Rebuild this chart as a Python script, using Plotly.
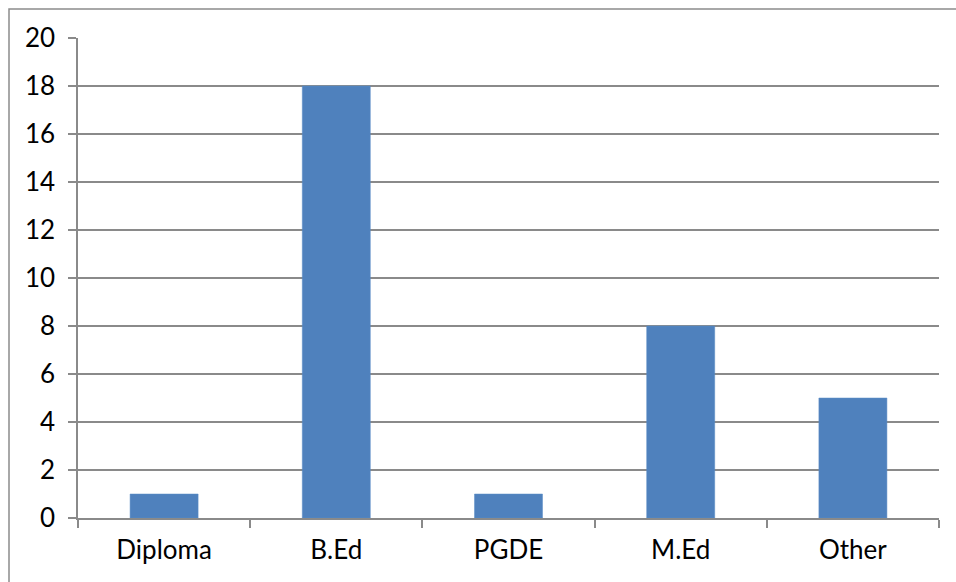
import plotly.graph_objects as go

categories = ["Diploma", "B.Ed", "PGDE", "M.Ed", "Other"]
values = [1, 18, 1, 8, 5]
y_ticks = [0, 2, 4, 6, 8, 10, 12, 14, 16, 18, 20]

W, H = 956, 582
ml, mr, mt, mb = 78, 17, 38, 64
pw = W - ml - mr
ph = H - mt - mb

fig = go.Figure(go.Bar(
    x=categories, y=values,
    marker=dict(color="#4F81BD", line=dict(color="#5B8CC6", width=0.5)),
))

grid = "#8A8A8A"
fig.update_layout(
    width=W, height=H,
    margin=dict(l=ml, r=mr, t=mt, b=mb),
    paper_bgcolor="white", plot_bgcolor="white",
    bargap=0.605,
    showlegend=False,
    font=dict(family="Lato", size=26, color="black"),
    xaxis=dict(
        showline=True, linecolor=grid, linewidth=1.5,
        ticks="outside", ticklen=8, tickwidth=1.5, tickcolor=grid,
        tickson="boundaries", showgrid=False,
        tickfont=dict(size=26),
        ticklabelstandoff=8,
    ),
    yaxis=dict(
        range=[0, 20], tickvals=y_ticks,
        showline=True, linecolor=grid, linewidth=1.5,
        ticks="outside", ticklen=8, tickwidth=1.5, tickcolor=grid,
        showgrid=True, gridcolor=grid, gridwidth=1.5,
        zeroline=False,
        tickfont=dict(size=26),
        ticklabelstandoff=8,
    ),
)

# outer chart border (extends past the right/bottom edges of the picture)
fig.add_shape(
    type="rect", xref="paper", yref="paper",
    x0=(9 - ml) / pw, x1=(W + 5 - ml) / pw,
    y0=-(mb + 5) / ph, y1=1 + (mt - 9) / ph,
    line=dict(color="#8C8C8C", width=1.5), fillcolor="rgba(0,0,0,0)",
    layer="below",
)

fig.write_html("out.html")
